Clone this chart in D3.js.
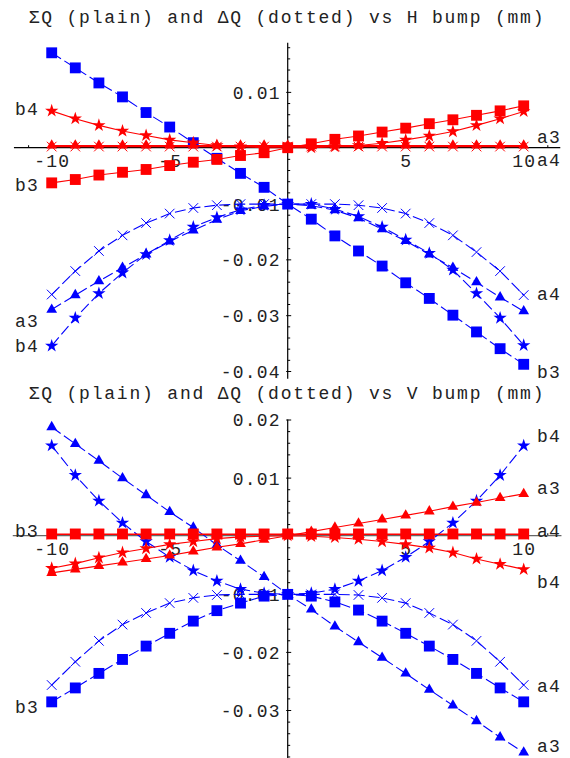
<!DOCTYPE html>
<html><head><meta charset="utf-8">
<script src="https://cdn.jsdelivr.net/npm/d3@7"></script>
<style>
body{margin:0;background:#fff}
text{font-family:"Liberation Mono","DejaVu Sans Mono",monospace;font-size:18px;letter-spacing:1.2px;fill:#222}
text.title{letter-spacing:1.8px}
</style>
</head><body>
<svg id="c" width="570" height="758"></svg>
<script>
// ---------- data ----------
const bump = [-10,-9,-8,-7,-6,-5,-4,-3,-2,-1,0,1,2,3,4,5,6,7,8,9,10];
const titles = ["ΣQ (plain) and ΔQ (dotted) vs H bump (mm)", "ΣQ (plain) and ΔQ (dotted) vs V bump (mm)"];
const xTickLabels = [-10,-5,5,10];
const hYTicks = [0.01,-0.01,-0.02,-0.03,-0.04];
const vYTicks = [0.02,0.01,-0.01,-0.02,-0.03];

// H bump: ΣQ (plain, red)
const hSumB3 = [-0.0063,-0.0057,-0.0049,-0.0044,-0.0039,-0.0032,-0.0026,-0.0021,-0.0014,-0.0009,0,0.0007,0.0015,0.0021,0.0028,0.0035,0.0043,0.0050,0.0058,0.0066,0.0075];
const hSumB4 = [0.0066,0.0052,0.0040,0.0030,0.0022,0.0014,0.0009,0.0004,0.0002,0.0000,0,0.0000,0.0002,0.0004,0.0008,0.0014,0.0021,0.0029,0.0040,0.0052,0.0065];
const hSumA3 = [0.0004,0.0004,0.0004,0.0004,0.0004,0.0004,0.0004,0.0004,0.0004,0.0004,0.0004,0.0004,0.0004,0.0004,0.0004,0.0004,0.0004,0.0004,0.0004,0.0004,0.0004];
const hSumA4 = [0.0002,0.0002,0.0002,0.0002,0.0002,0.0002,0.0002,0.0002,0.0002,0.0002,0.0002,0.0002,0.0002,0.0002,0.0002,0.0002,0.0002,0.0002,0.0002,0.0002,0.0002];
// H bump: ΔQ (dotted, blue)
const hDifB3 = [0.0170,0.0143,0.0116,0.0091,0.0063,0.0037,0.0009,-0.0019,-0.0046,-0.0071,-0.0101,-0.0128,-0.0158,-0.0185,-0.0212,-0.0242,-0.0270,-0.0300,-0.0330,-0.0360,-0.0388];
const hDifA4 = [-0.0263,-0.0221,-0.0185,-0.0157,-0.0135,-0.0118,-0.0108,-0.0103,-0.0101,-0.0101,-0.0101,-0.0101,-0.0101,-0.0103,-0.0108,-0.0118,-0.0135,-0.0157,-0.0187,-0.0221,-0.0264];
const hDifA3 = [-0.0290,-0.0264,-0.0239,-0.0215,-0.0191,-0.0168,-0.0148,-0.0129,-0.0113,-0.0105,-0.0101,-0.0104,-0.0112,-0.0126,-0.0146,-0.0167,-0.0191,-0.0215,-0.0241,-0.0268,-0.0293];
const hDifB4 = [-0.0355,-0.0305,-0.0261,-0.0224,-0.0191,-0.0166,-0.0142,-0.0125,-0.0111,-0.0103,-0.0101,-0.0101,-0.0110,-0.0123,-0.0142,-0.0165,-0.0189,-0.0219,-0.0261,-0.0305,-0.0354];

// V bump: ΣQ (plain, red)
const vSumB3 = [0.0003,0.0003,0.0003,0.0003,0.0003,0.0003,0.0003,0.0003,0.0003,0.0003,0.0003,0.0003,0.0003,0.0003,0.0003,0.0003,0.0003,0.0003,0.0003,0.0003,0.0003];
const vSumA4 = [0.0002,0.0002,0.0002,0.0002,0.0002,0.0002,0.0002,0.0002,0.0002,0.0002,0.0002,0.0002,0.0002,0.0002,0.0002,0.0002,0.0002,0.0002,0.0002,0.0002,0.0002];
const vSumA3 = [-0.0064,-0.0058,-0.0052,-0.0046,-0.0040,-0.0034,-0.0027,-0.0020,-0.0014,-0.0007,0,0.0007,0.0014,0.0021,0.0028,0.0035,0.0042,0.0050,0.0057,0.0065,0.0072];
const vSumB4 = [-0.0056,-0.0048,-0.0038,-0.0029,-0.0022,-0.0015,-0.0010,-0.0005,-0.0002,-0.0001,0,-0.0001,-0.0003,-0.0006,-0.0010,-0.0015,-0.0021,-0.0029,-0.0040,-0.0049,-0.0058];
// V bump: ΔQ (dotted, blue)
const vDifA3 = [0.0187,0.0158,0.0129,0.0099,0.0070,0.0041,0.0014,-0.0016,-0.0043,-0.0071,-0.0101,-0.0127,-0.0156,-0.0183,-0.0210,-0.0237,-0.0265,-0.0292,-0.0319,-0.0347,-0.0373];
const vDifB4 = [0.0155,0.0104,0.0060,0.0022,-0.0010,-0.0037,-0.0060,-0.0078,-0.0092,-0.0099,-0.0101,-0.0099,-0.0092,-0.0078,-0.0060,-0.0037,-0.0010,0.0022,0.0060,0.0104,0.0155];
const vDifB3 = [-0.0286,-0.0262,-0.0237,-0.0213,-0.0190,-0.0168,-0.0147,-0.0129,-0.0116,-0.0104,-0.0101,-0.0104,-0.0114,-0.0128,-0.0147,-0.0168,-0.0190,-0.0213,-0.0237,-0.0262,-0.0286];
const vDifA4 = [-0.0257,-0.0217,-0.0181,-0.0153,-0.0133,-0.0116,-0.0107,-0.0102,-0.0101,-0.0101,-0.0101,-0.0101,-0.0101,-0.0102,-0.0107,-0.0116,-0.0133,-0.0153,-0.0181,-0.0217,-0.0257];

// ---------- drawing ----------
const svg = d3.select("#c");
const RED = "#ff0000", BLUE = "#0000ff";
const symTimes = d3.symbolTimes || d3.symbolX;
const shapes = {
  square: {type: d3.symbolSquare, size: 118, fill: true},
  triangle: {type: d3.symbolTriangle, size: 50, fill: true},
  star: {type: d3.symbolStar, size: 55, fill: true},
  cross: {type: symTimes, size: 62, fill: false}
};

function panel(cfg) {
  const g = svg.append("g");
  const x = d3.scaleLinear().domain([-10, 10]).range([51.7, 523.7]);
  const y = d3.scaleLinear().domain(cfg.yDom).range(cfg.yRange);

  // title
  g.append("text").attr("class", "title").attr("x", 287).attr("y", cfg.titleY).attr("text-anchor", "middle").text(cfg.title);

  const x0 = x(0), y0 = y(0);
  // y axis tick labels (left) and ticks (right)
  const yAxis = d3.axisLeft(y).tickValues(cfg.yTicks).tickSize(-3.5).tickPadding(7).tickSizeOuter(0)
    .tickFormat(d => d3.format(".2f")(d).replace("−", "-"));
  const ya = g.append("g").attr("transform", `translate(${x0},0)`).call(yAxis);
  ya.select(".domain").remove();
  ya.selectAll("text").attr("font-family", null).attr("font-size", null).attr("dy", "0.36em");
  ya.selectAll("line").attr("stroke", "#000").attr("x1", -1.5);
  const yMinor = d3.range(Math.ceil(cfg.yExt[1] / 0.002), Math.floor(cfg.yExt[0] / 0.002) + 1)
    .map(k => +(k * 0.002).toFixed(4)).filter(v => Math.abs(v * 100 - Math.round(v * 100)) > 1e-6);
  const ym = g.append("g").attr("transform", `translate(${x0},0)`)
    .call(d3.axisLeft(y).tickValues(yMinor).tickSize(-2.5).tickFormat(""));
  ym.select(".domain").remove();
  ym.selectAll("line").attr("stroke", "#000");

  // x axis ticks (upward) and labels
  const xAxis = d3.axisBottom(x).tickValues(xTickLabels).tickSize(-4).tickPadding(6).tickSizeOuter(0)
    .tickFormat(d => String(d));
  const xa = g.append("g").attr("transform", `translate(0,${y0})`).call(xAxis);
  xa.select(".domain").remove();
  xa.selectAll("text").attr("font-family", null).attr("font-size", null).attr("dy", "0.72em");
  xa.selectAll("line").attr("stroke", "#000");
  const xMinor = d3.range(-11, 12).filter(v => v !== 0 && v % 5 !== 0);
  const xm = g.append("g").attr("transform", `translate(0,${y0})`)
    .call(d3.axisBottom(x).tickValues(xMinor).tickSize(-2.5).tickFormat(""));
  xm.select(".domain").remove();
  xm.selectAll("line").attr("stroke", "#000");

  // axis lines
  g.append("line").attr("x1", x(cfg.xExt[0])).attr("x2", x(cfg.xExt[1])).attr("y1", y0).attr("y2", y0)
    .attr("stroke", cfg.xAxisColor).attr("stroke-width", 1.3);
  g.append("line").attr("x1", x0).attr("x2", x0).attr("y1", y(cfg.yExt[0])).attr("y2", y(cfg.yExt[1]))
    .attr("stroke", "#000").attr("stroke-width", 1.2);

  // series
  const line = d3.line().x((d, i) => x(bump[i])).y(d => y(d));
  cfg.series.forEach(s => {
    const col = s.color;
    g.append("path").attr("d", line(s.values)).attr("fill", "none").attr("stroke", col)
      .attr("stroke-width", 1.1).attr("stroke-dasharray", s.dashed ? "11,4" : null);
    const sh = shapes[s.marker];
    const sym = d3.symbol().type(sh.type).size(sh.size);
    g.append("g").selectAll("path").data(s.values).join("path")
      .attr("transform", (d, i) => `translate(${x(bump[i])},${y(d)})`)
      .attr("d", sym)
      .attr("fill", sh.fill ? col : "none")
      .attr("stroke", sh.fill ? "none" : col)
      .attr("stroke-width", 1);
  });

  // series labels at curve ends
  cfg.labels.forEach(l => {
    const vals = l.series.values;
    const v = l.side === "left" ? vals[0] : vals[vals.length - 1];
    g.append("text").attr("x", l.side === "left" ? 15 : 537).attr("y", y(v) + l.dy).attr("dy", "0.36em").text(l.text);
  });
}

const H = {
  b3s: {values: hSumB3, color: RED, marker: "square"},
  b4s: {values: hSumB4, color: RED, marker: "star"},
  a3s: {values: hSumA3, color: RED, marker: "triangle"},
  a4s: {values: hSumA4, color: RED, marker: "cross"},
  b3d: {values: hDifB3, color: BLUE, marker: "square", dashed: true},
  a4d: {values: hDifA4, color: BLUE, marker: "cross", dashed: true},
  a3d: {values: hDifA3, color: BLUE, marker: "triangle", dashed: true},
  b4d: {values: hDifB4, color: BLUE, marker: "star", dashed: true}
};
panel({
  title: titles[0], titleY: 22.5,
  yDom: [0, -0.04], yRange: [147.7, 371], yTicks: hYTicks,
  yExt: [0.0188, -0.0414], xExt: [-11.6, 11.55], xAxisColor: "#000",
  series: [H.b3d, H.a4d, H.a3d, H.b4d, H.a3s, H.a4s, H.b4s, H.b3s],
  labels: [
    {series: H.b4s, side: "left", text: "b4", dy: -2},
    {series: H.b3s, side: "left", text: "b3", dy: 2},
    {series: H.a3s, side: "right", text: "a3", dy: -9},
    {series: H.a4s, side: "right", text: "a4", dy: 13},
    {series: H.a3d, side: "left", text: "a3", dy: 11},
    {series: H.b4d, side: "left", text: "b4", dy: 0},
    {series: H.a4d, side: "right", text: "a4", dy: -2},
    {series: H.b3d, side: "right", text: "b3", dy: 7}
  ]
});

const V = {
  b3s: {values: vSumB3, color: RED, marker: "square"},
  a4s: {values: vSumA4, color: RED, marker: "cross"},
  a3s: {values: vSumA3, color: RED, marker: "triangle"},
  b4s: {values: vSumB4, color: RED, marker: "star"},
  a3d: {values: vDifA3, color: BLUE, marker: "triangle", dashed: true},
  b4d: {values: vDifB4, color: BLUE, marker: "star", dashed: true},
  b3d: {values: vDifB3, color: BLUE, marker: "square", dashed: true},
  a4d: {values: vDifA4, color: BLUE, marker: "cross", dashed: true}
};
panel({
  title: titles[1], titleY: 398.5,
  yDom: [0.02, -0.03], yRange: [419.5, 710], yTicks: vYTicks,
  yExt: [0.02, -0.0385], xExt: [-11.65, 11.6], xAxisColor: "#666",
  series: [V.a4d, V.b3d, V.b4d, V.a3d, V.a4s, V.a3s, V.b4s, V.b3s],
  labels: [
    {series: V.b3s, side: "left", text: "b3", dy: -3},
    {series: V.b4d, side: "right", text: "b4", dy: -10},
    {series: V.a3s, side: "right", text: "a3", dy: -6},
    {series: V.a4s, side: "right", text: "a4", dy: -4},
    {series: V.b4s, side: "right", text: "b4", dy: 12},
    {series: V.a4d, side: "right", text: "a4", dy: 1},
    {series: V.b3d, side: "left", text: "b3", dy: 5},
    {series: V.a3d, side: "right", text: "a3", dy: -7}
  ]
});
</script>
</body></html>
